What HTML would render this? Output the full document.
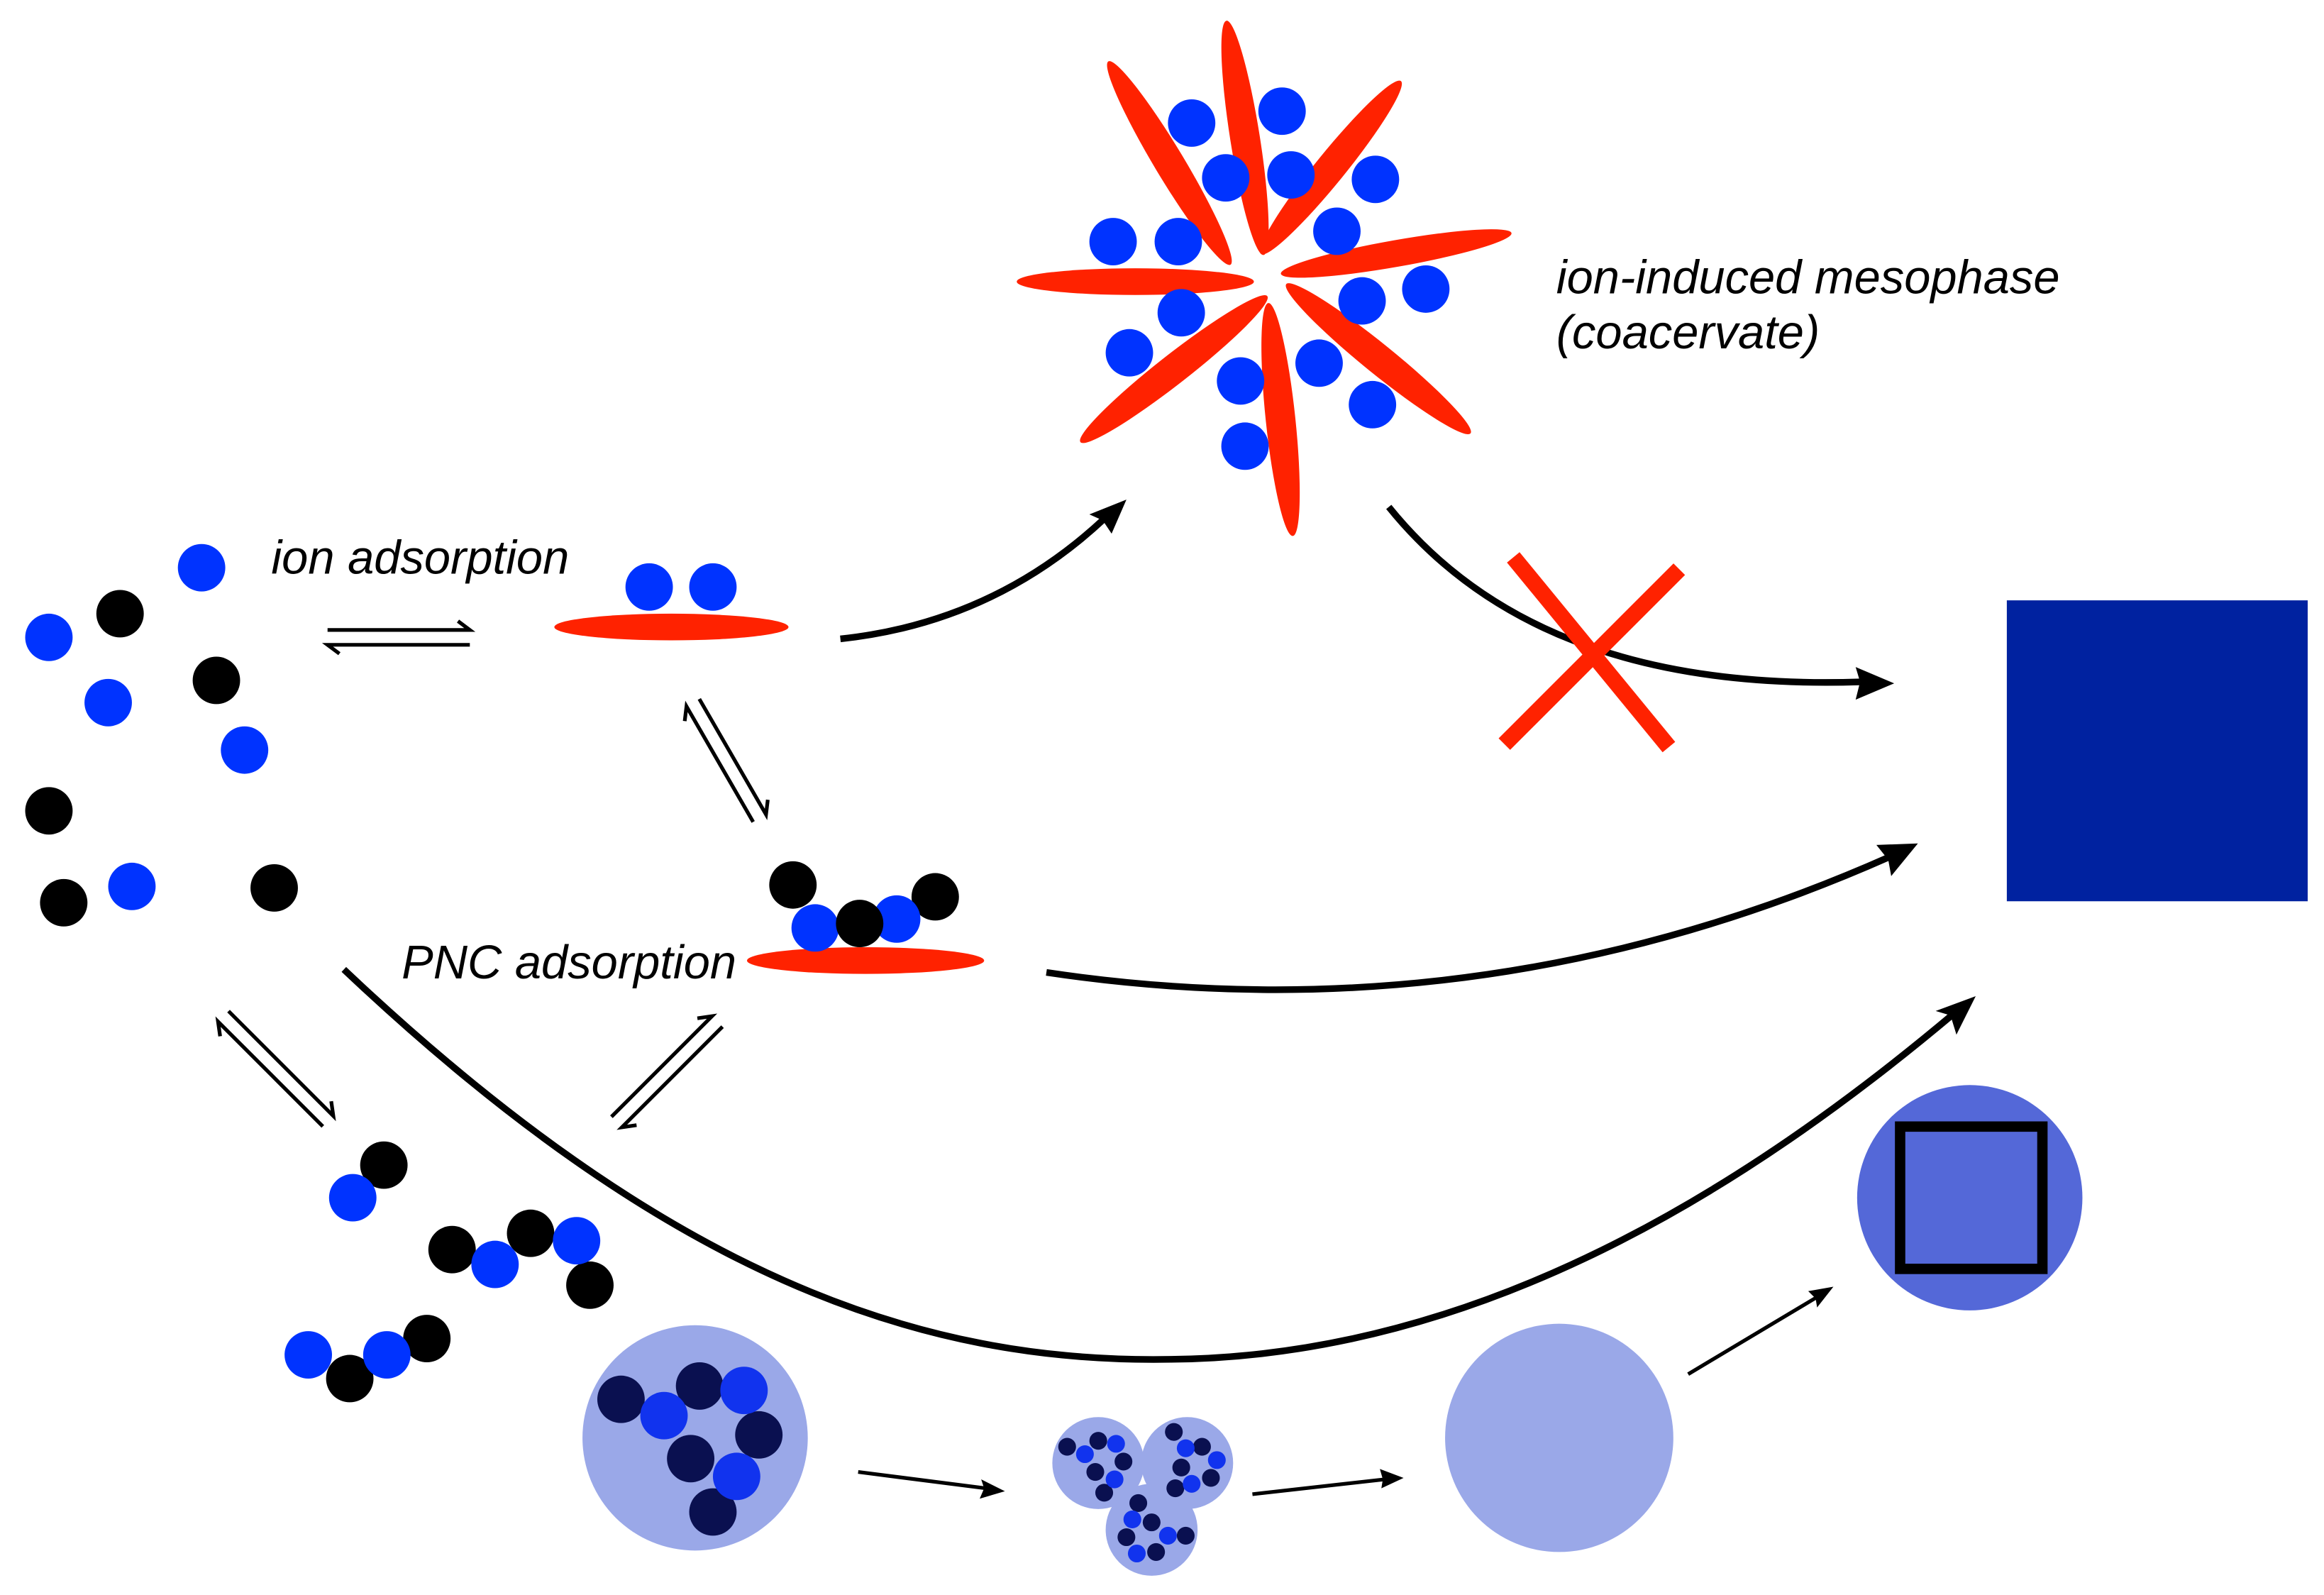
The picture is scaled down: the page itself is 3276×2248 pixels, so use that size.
<!DOCTYPE html>
<html><head><meta charset="utf-8"><style>
html,body{margin:0;padding:0;background:#fff;}
svg{display:block;}
text{font-family:"Liberation Sans",sans-serif;font-style:italic;font-size:32px;fill:#000;}
</style></head><body>
<svg width="3276" height="2248" viewBox="0 0 1568 1076" preserveAspectRatio="none" xmlns="http://www.w3.org/2000/svg">
<!-- free ions -->
<g fill="#0033ff">
<circle cx="136" cy="383" r="16"/><circle cx="33" cy="430" r="16"/><circle cx="73" cy="474" r="16"/><circle cx="165" cy="506" r="16"/><circle cx="89" cy="598" r="16"/>
</g>
<g fill="#000">
<circle cx="81" cy="414" r="16"/><circle cx="146" cy="459" r="16"/><circle cx="33" cy="547" r="16"/><circle cx="43" cy="609" r="16"/><circle cx="185" cy="599" r="16"/>
</g>
<text x="183" y="387">ion adsorption</text>
<text x="271" y="660">PNC adsorption</text>
<text x="1050" y="198">ion-induced mesophase</text>
<text x="1050" y="235">(coacervate)</text>

<!-- equilibrium arrows -->
<g stroke="#000" stroke-width="2.5" fill="none">
<path d="M221,425 H317 L309,419"/>
<path d="M317,435 H221 L229,441"/>
<g transform="translate(490,513) rotate(60)"><path d="M-45,-5 H45 L37,-11"/><path d="M45,5 H-45 L-37,11"/></g>
<g transform="translate(186,721) rotate(45)"><path d="M-50,-5 H50 L42,-11"/><path d="M50,5 H-50 L-42,11"/></g>
<g transform="translate(450,723) rotate(-45)"><path d="M-48,-5 H48 L40,-11"/><path d="M48,5 H-48 L-40,11"/></g>
</g>

<!-- ion adsorbed -->
<ellipse cx="453" cy="423" rx="79" ry="9" fill="#ff2200"/>
<circle cx="438" cy="396" r="16" fill="#0033ff"/><circle cx="481" cy="396" r="16" fill="#0033ff"/>

<!-- PNC adsorbed -->
<ellipse cx="584" cy="648" rx="80" ry="9" fill="#ff2200"/>
<g fill="#000"><circle cx="535" cy="597" r="16"/><circle cx="631" cy="605" r="16"/></g>
<g fill="#0033ff"><circle cx="550" cy="626" r="16"/><circle cx="605" cy="620" r="16"/></g>
<circle cx="580" cy="623" r="16" fill="#000"/>

<!-- flower -->
<g fill="#ff2200">
<ellipse cx="840" cy="93" rx="80" ry="10" transform="rotate(81 840 93)"/>
<ellipse cx="789" cy="110" rx="80" ry="10" transform="rotate(59 789 110)"/>
<ellipse cx="898" cy="113" rx="75" ry="10" transform="rotate(-51 898 113)"/>
<ellipse cx="766" cy="190" rx="80" ry="9"/>
<ellipse cx="942" cy="171" rx="79" ry="9" transform="rotate(-10 942 171)"/>
<ellipse cx="792" cy="249" rx="80" ry="10" transform="rotate(-38 792 249)"/>
<ellipse cx="864" cy="283" rx="79" ry="10" transform="rotate(84 864 283)"/>
<ellipse cx="930" cy="242" rx="80" ry="10" transform="rotate(39 930 242)"/>
</g>
<g fill="#0033ff">
<circle cx="804" cy="83" r="16"/><circle cx="865" cy="75" r="16"/><circle cx="827" cy="120" r="16"/><circle cx="871" cy="118" r="16"/><circle cx="928" cy="121" r="16"/><circle cx="751" cy="163" r="16"/><circle cx="795" cy="163" r="16"/><circle cx="902" cy="156" r="16"/><circle cx="919" cy="203" r="16"/><circle cx="962" cy="195" r="16"/><circle cx="797" cy="211" r="16"/><circle cx="762" cy="238" r="16"/><circle cx="837" cy="257" r="16"/><circle cx="890" cy="245" r="16"/><circle cx="926" cy="273" r="16"/><circle cx="840" cy="301" r="16"/>
</g>

<!-- big curves -->
<g stroke="#000" stroke-width="4.5" fill="none">
<path d="M567,431 Q670,420 745,350"/>
<path d="M937,342 C1000,420 1100,465 1255,460"/>
<path d="M706,656 Q1000,700 1275,578"/>
<path d="M232,654 C450,860 620,920 790,917 C1000,915 1180,800 1318,684"/>
</g>
<g fill="#000">
<polygon points="760,337 735,347 744,351 750,360"/>
<polygon points="1278,461 1252,450 1255,460 1252,472"/>
<polygon points="1294,569 1266,570 1274,580 1276,591"/>
<polygon points="1333,672 1306,682 1316,685 1320,698"/>
</g>

<!-- red X -->
<g stroke="#ff2200" stroke-width="11">
<line x1="1021" y1="376" x2="1126" y2="504"/><line x1="1133" y1="384" x2="1015" y2="502"/>
</g>

<rect x="1354" y="405" width="203" height="203" fill="#0022a0"/>

<!-- pairs -->
<g fill="#000"><circle cx="259" cy="786" r="16"/><circle cx="305" cy="843" r="16"/><circle cx="358" cy="832" r="16"/><circle cx="398" cy="867" r="16"/><circle cx="236" cy="930" r="16"/><circle cx="288" cy="903" r="16"/></g>
<g fill="#0033ff"><circle cx="238" cy="808" r="16"/><circle cx="334" cy="853" r="16"/><circle cx="389" cy="837" r="16"/><circle cx="208" cy="914" r="16"/><circle cx="261" cy="914" r="16"/></g>

<!-- droplet -->
<circle cx="469" cy="970" r="76" fill="#9aa8e8"/>
<g fill="#0a1050"><circle cx="419" cy="944" r="16"/><circle cx="472" cy="935" r="16"/><circle cx="512" cy="968" r="16"/><circle cx="466" cy="984" r="16"/><circle cx="481" cy="1020" r="16"/></g>
<g fill="#1133ee"><circle cx="448" cy="955" r="16"/><circle cx="502" cy="938" r="16"/><circle cx="497" cy="996" r="16"/></g>

<!-- small arrows -->
<g stroke="#000" stroke-width="2.5">
<line x1="579" y1="993" x2="665" y2="1004"/>
<line x1="845" y1="1008" x2="934" y2="998"/>
<line x1="1139" y1="927" x2="1226" y2="875"/>
</g>
<g fill="#000">
<polygon points="678,1006 662,998 664,1004 661,1011"/>
<polygon points="947,997 931,991 933,998 932,1004"/>
<polygon points="1237,868 1220,871 1225,876 1226,882"/>
</g>

<!-- small clusters -->
<g fill="#9aa8e8"><circle cx="741" cy="987" r="31"/><circle cx="801" cy="987" r="31"/><circle cx="777" cy="1032" r="31"/></g>
<g fill="#0a1050">
<circle cx="720" cy="976" r="6"/><circle cx="741" cy="972" r="6"/><circle cx="758" cy="986" r="6"/><circle cx="739" cy="993" r="6"/><circle cx="745" cy="1007" r="6"/>
<circle cx="792" cy="966" r="6"/><circle cx="811" cy="976" r="6"/><circle cx="797" cy="990" r="6"/><circle cx="817" cy="997" r="6"/><circle cx="793" cy="1004" r="6"/>
<circle cx="768" cy="1014" r="6"/><circle cx="777" cy="1027" r="6"/><circle cx="760" cy="1037" r="6"/><circle cx="800" cy="1036" r="6"/><circle cx="780" cy="1047" r="6"/>
</g>
<g fill="#1133ee">
<circle cx="732" cy="981" r="6"/><circle cx="753" cy="974" r="6"/><circle cx="752" cy="998" r="6"/>
<circle cx="800" cy="977" r="6"/><circle cx="821" cy="985" r="6"/><circle cx="804" cy="1001" r="6"/>
<circle cx="764" cy="1025" r="6"/><circle cx="788" cy="1036" r="6"/><circle cx="767" cy="1048" r="6"/>
</g>

<circle cx="1052" cy="970" r="77" fill="#9aa8e8"/>
<circle cx="1329" cy="808" r="76" fill="#5468d8"/>
<rect x="1282" y="760" width="96" height="96" fill="none" stroke="#000" stroke-width="7"/>
</svg>
</body></html>
